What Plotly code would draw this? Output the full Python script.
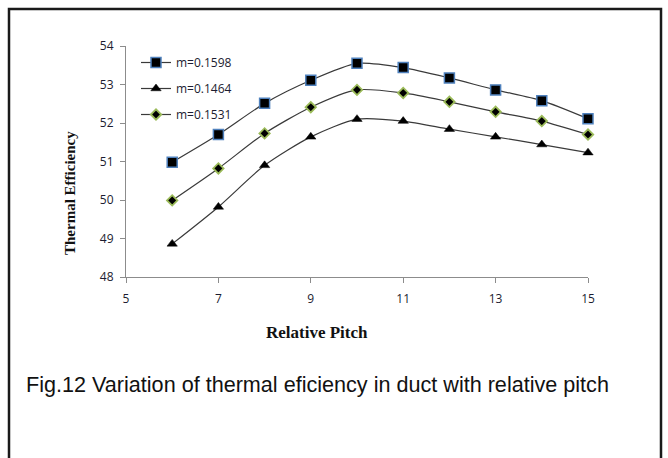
import plotly.graph_objects as go

# Relative pitch values and thermal efficiency for each mass flow rate
relative_pitch = [6, 7, 8, 9, 10, 11, 12, 13, 14, 15]
eff_m01598 = [50.98, 51.70, 52.51, 53.11, 53.55, 53.44, 53.17, 52.86, 52.58, 52.11]
eff_m01464 = [48.86, 49.82, 50.90, 51.64, 52.10, 52.05, 51.84, 51.64, 51.44, 51.23]
eff_m01531 = [49.99, 50.82, 51.73, 52.41, 52.86, 52.78, 52.55, 52.29, 52.05, 51.70]

series_names = ["m=0.1598", "m=0.1464", "m=0.1531"]
x_ticks = [5, 7, 9, 11, 13, 15]
y_ticks = [48, 49, 50, 51, 52, 53, 54]

line_style = dict(color="#3a3a3a", width=1.2, shape="spline", smoothing=0.7)
text_color = "#1c1c30"

fig = go.Figure()
fig.add_trace(go.Scatter(
    x=relative_pitch, y=eff_m01598, name=series_names[0], legendgroup="a",
    mode="lines+markers", line=line_style, cliponaxis=False,
    marker=dict(symbol="square", size=10, color="black",
                line=dict(color="#4f81bd", width=1.5)),
))
fig.add_trace(go.Scatter(
    x=relative_pitch, y=eff_m01464, name=series_names[1], legendgroup="b",
    mode="lines+markers", line=line_style, cliponaxis=False,
    marker=dict(symbol="triangle-up", size=9, color="black",
                line=dict(color="black", width=0.5)),
))
fig.add_trace(go.Scatter(
    x=relative_pitch, y=eff_m01531, name=series_names[2], legendgroup="c",
    mode="lines+markers", line=line_style, cliponaxis=False,
    marker=dict(symbol="diamond", size=8, color="black",
                line=dict(color="#9bbb59", width=1.8)),
))

# Plot area in pixels: x 126..588, y 46..277
L, R, T, B = 126, 588, 46, 277
W, H = 668, 458

def px_x(p):
    return (p - L) / (R - L)

def px_y(p):
    return (B - p) / (B - T)

fig.update_layout(
    width=W, height=H,
    margin=dict(l=L, r=W - R, t=T, b=H - B),
    paper_bgcolor="white", plot_bgcolor="white",
    showlegend=True,
    legend=dict(
        x=px_x(136), y=px_y(48), xanchor="left", yanchor="top",
        bgcolor="rgba(0,0,0,0)", font=dict(family="Open Sans", size=12, color=text_color),
        tracegroupgap=7, itemwidth=30,
    ),
    xaxis=dict(
        range=[5, 15], tickvals=x_ticks, showgrid=False, zeroline=False,
        showline=True, linecolor="#8c8c8c", linewidth=1,
        ticks="outside", ticklen=5, tickcolor="#8c8c8c", ticklabelstandoff=6,
        tickfont=dict(family="Open Sans", size=12, color=text_color),
    ),
    yaxis=dict(
        range=[48, 54], tickvals=y_ticks, showgrid=False, zeroline=False,
        showline=True, linecolor="#8c8c8c", linewidth=1,
        ticks="outside", ticklen=5, tickcolor="#8c8c8c", ticklabelstandoff=4,
        tickfont=dict(family="Open Sans", size=12, color=text_color),
    ),
)

# Axis titles
fig.add_annotation(
    text="<b>Relative Pitch</b>", xref="paper", yref="paper",
    x=px_x(317), y=px_y(332), xanchor="center", yanchor="middle", showarrow=False,
    font=dict(family="Liberation Serif", size=17, color="#111"),
)
fig.add_annotation(
    text="<b>Thermal Efficiency</b>", xref="paper", yref="paper", textangle=-90,
    x=px_x(70), y=px_y(193), xanchor="center", yanchor="middle", showarrow=False,
    font=dict(family="Liberation Serif", size=15, color="#111"),
)

# Frame around the figure panel (open at the bottom edge of the page)
fig.add_shape(type="path", xref="paper", yref="paper",
              path=f"M {px_x(9)} {px_y(470)} L {px_x(9)} {px_y(9)} L {px_x(661)} {px_y(9)} L {px_x(661)} {px_y(470)}",
              line=dict(color="#1a1a1a", width=2.5))

fig.add_annotation(
    text="Fig.12 Variation of thermal eficiency in duct with relative pitch",
    xref="paper", yref="paper", x=px_x(24), y=px_y(384),
    xanchor="left", yanchor="middle", showarrow=False,
    font=dict(family="Liberation Sans", size=21.6, color="#111"),
)

fig.write_html("out.html")
